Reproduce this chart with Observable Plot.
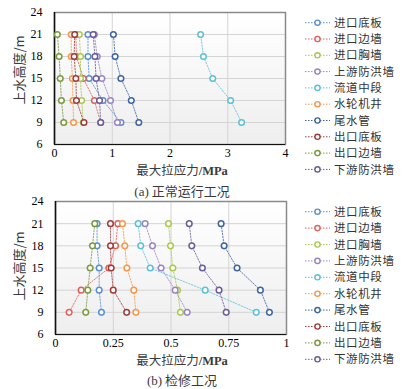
<!DOCTYPE html>
<html><head><meta charset="utf-8">
<script src="https://cdn.jsdelivr.net/npm/d3@7"></script>
<script src="https://cdn.jsdelivr.net/npm/@observablehq/plot@0.6"></script>
<style>
body{margin:0;background:#fff;}
#root{position:relative;width:410px;height:389px;overflow:hidden;font-family:"Noto Sans CJK SC",sans-serif;}
.panel{position:absolute;left:0;}
.lbl{position:absolute;white-space:nowrap;color:#3a3a3a;font-size:12.5px;line-height:1;transform:translate(-50%,-50%);}
.lbl span{line-height:1;}
.cap{font-size:13px;}
.ylbl{transform:translate(-50%,-50%) rotate(-90deg);font-size:13px;}
.serif{font-family:"Liberation Serif",serif;}
.bold{font-weight:bold;}
#legend{position:absolute;left:0;top:0;}
</style></head><body><div id="root"></div>
<script>
// Elevations (m)
const heights = [9, 12, 15, 18, 21];
// Series names and colours
const seriesNames = ["进口底板","进口边墙","进口胸墙","上游防洪墙","流道中段","水轮机井","尾水管","出口底板","出口边墙","下游防洪墙"];
const seriesColors = ["#5b8fd0","#e0605a","#aac94c","#9b84c6","#5cc0d8","#f7964a","#3c64a2","#9e3b3b","#7b9a40","#6a5b9b"];
// (a) normal operation, max tensile stress (MPa) at heights 9..21
const normalStress = [
  [1.15, 0.84, 0.60, 0.58, 0.58],
  [0.80, 0.69, 0.50, 0.38, 0.37],
  [0.50, 0.47, 0.45, 0.45, 0.43],
  [1.09, 0.97, 0.82, 0.74, 0.69],
  [3.24, 3.05, 2.74, 2.58, 2.53],
  [0.33, 0.32, 0.31, 0.29, 0.29],
  [1.46, 1.33, 1.15, 1.05, 1.02],
  [0.51, 0.38, 0.37, 0.34, 0.35],
  [0.16, 0.12, 0.10, 0.08, 0.05],
  [0.80, 0.78, 0.72, 0.70, 0.67]
];
// (b) maintenance, max tensile stress (MPa) at heights 9..21
const maintStress = [
  [0.199, 0.189, 0.189, 0.180, 0.180],
  [0.059, 0.111, 0.231, 0.260, 0.270],
  [0.541, 0.528, 0.508, 0.498, 0.489],
  [0.570, 0.518, 0.457, 0.420, 0.388],
  [0.869, 0.648, 0.410, 0.369, 0.358],
  [0.348, 0.339, 0.309, 0.300, 0.290],
  [0.926, 0.887, 0.786, 0.730, 0.717],
  [0.308, 0.250, 0.241, 0.238, 0.238],
  [0.131, 0.140, 0.150, 0.160, 0.170],
  [0.739, 0.708, 0.636, 0.590, 0.579]
];
const yTicks = [6, 9, 12, 15, 18, 21, 24];
const xTicksA = [0, 1, 2, 3, 4];
const xTicksB = [0, 0.25, 0.5, 0.75, 1];

const root = document.getElementById("root");

function toRows(vals) {
  const rows = [];
  vals.forEach((arr, i) => arr.forEach((v, j) => rows.push({series: seriesNames[i], h: heights[j], v})));
  return rows;
}

function panel(vals, xTicks, ml, mt, top, gid) {
  const rows = toRows(vals);
  const pw = 231;
  const H = 164;
  const svg = Plot.plot({
    width: ml + pw + 15, height: H,
    marginLeft: ml, marginRight: 15, marginTop: mt, marginBottom: 20,
    style: {fontFamily: "Liberation Serif, serif", fontSize: "12px", color: "#000", background: "transparent"},
    x: {domain: [xTicks[0], xTicks[xTicks.length - 1]], ticks: xTicks, tickSize: 0, tickPadding: 4, tickFormat: d => String(d), label: null},
    y: {domain: [6, 24], ticks: yTicks, tickSize: 0, tickPadding: 12, label: null},
    color: {domain: seriesNames, range: seriesColors},
    marks: [
      Plot.frame({fill: `url(#${gid})`, stroke: "none"}),
      Plot.gridX(xTicks.slice(1, -1), {stroke: "#d4d4d4", strokeOpacity: 1}),
      Plot.gridY(yTicks.slice(1, -1), {stroke: "#d4d4d4", strokeOpacity: 1}),
      Plot.frame({stroke: "#8a8a8a", strokeWidth: 1.5}),
      Plot.ruleX([xTicks[0]], {stroke: "#111", strokeWidth: 1.5}),
      Plot.ruleY([6], {stroke: "#111", strokeWidth: 1}),
      Plot.line(rows, {x: "v", y: "h", z: "series", stroke: "series", strokeWidth: 1, strokeDasharray: "1.5,1.5", strokeOpacity: 0.8}),
      Plot.dot(rows, {x: "v", y: "h", stroke: "series", fill: "#fff", r: 2.8, strokeWidth: 1.5})
    ]
  });
  const defs = d3.select(svg).insert("defs", ":first-child");
  const g = defs.append("linearGradient").attr("id", gid).attr("x1", 0).attr("y1", 0).attr("x2", 0).attr("y2", 1);
  g.append("stop").attr("offset", "0%").attr("stop-color", "#ffffff");
  g.append("stop").attr("offset", "100%").attr("stop-color", "#eeeeee");
  const wrap = document.createElement("div");
  wrap.className = "panel";
  wrap.style.top = top + "px";
  wrap.appendChild(svg);
  root.appendChild(wrap);
}

panel(normalStress, xTicksA, 54, 12, 0, "gA");
panel(maintStress, xTicksB, 55, 11, 190, "gB");

function addLabel(html, x, y, cls) {
  const d = document.createElement("div");
  d.className = "lbl" + (cls ? " " + cls : "");
  d.style.left = x + "px";
  d.style.top = y + "px";
  d.innerHTML = html;
  root.appendChild(d);
}
addLabel("上水高度/m", 18, 70, "ylbl");
addLabel("上水高度/m", 18, 266, "ylbl");
const xl = '最大拉应力<span class="serif bold">/MPa</span>';
addLabel(xl, 182, 171);
addLabel(xl, 182, 361);
addLabel('<span class="serif">(a)</span> 正常运行工况', 182, 191, "cap");
addLabel('<span class="serif">(b)</span> 检修工况', 182, 379.5, "cap");

// Legends
const leg = d3.select(root).append("svg").attr("id", "legend").attr("width", 410).attr("height", 389);
function legend(y0, step) {
  seriesNames.forEach((n, i) => {
    const y = y0 + i * step;
    leg.append("line").attr("x1", 305).attr("x2", 330).attr("y1", y).attr("y2", y)
      .attr("stroke", seriesColors[i]).attr("stroke-width", 1).attr("stroke-dasharray", "1.5,1.5");
    leg.append("circle").attr("cx", 317.5).attr("cy", y).attr("r", 2.6)
      .attr("fill", "#fff").attr("stroke", seriesColors[i]).attr("stroke-width", 1.4);
    leg.append("text").attr("x", 334).attr("y", y).attr("dy", "0.36em")
      .attr("font-size", "11.5px").attr("letter-spacing", "0.6px").attr("fill", "#333")
      .attr("font-family", "Noto Sans CJK SC, sans-serif").text(n);
  });
}
legend(22.7, 16.3);
legend(211.7, 16.4);
</script></body></html>
